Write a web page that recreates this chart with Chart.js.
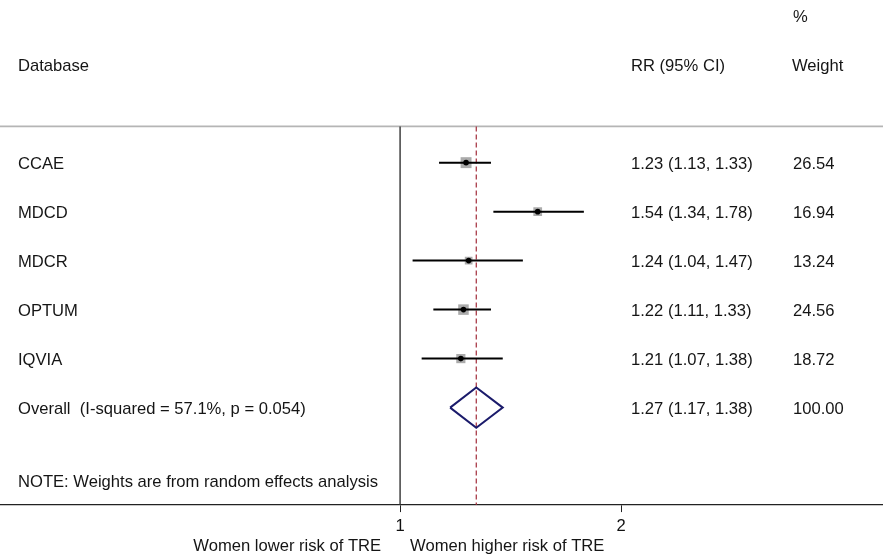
<!DOCTYPE html>
<html>
<head>
<meta charset="utf-8">
<script src="https://cdn.jsdelivr.net/npm/chart.js@4.4.1/dist/chart.umd.min.js"></script>
<style>
  html, body { margin: 0; padding: 0; background: #fff; }
  #wrap { width: 883px; height: 554px; }
</style>
</head>
<body>
<div id="wrap"><canvas id="forest"></canvas></div>
<script>
// Study data
const databases = ['CCAE', 'MDCD', 'MDCR', 'OPTUM', 'IQVIA'];
const rr = [1.23, 1.54, 1.24, 1.22, 1.21];
const ciLow = [1.13, 1.34, 1.04, 1.11, 1.07];
const ciHigh = [1.33, 1.78, 1.47, 1.33, 1.38];
const weights = [26.54, 16.94, 13.24, 24.56, 18.72];

// Pooled estimate
const overallLabel = 'Overall  (I-squared = 57.1%, p = 0.054)';
const overallRR = 1.27;
const overallLow = 1.17;
const overallHigh = 1.38;
const overallWeight = 100.00;

const xTicks = [1, 2];
const noteText = 'NOTE: Weights are from random effects analysis';

const FONT = '"Liberation Sans", Arial, sans-serif';
const FONT_SIZE = 16.6;
const X_MIN = 0.285, X_MAX = 4.55;
const Y_MIN = -2.32, Y_MAX = 7.99;
const TOP_RULE = 0.26;
const overallRow = databases.length + 1;

// CI segments, broken by null points
const ciLines = [];
databases.forEach((d, i) => {
  ciLines.push({ x: ciLow[i], y: i + 1 });
  ciLines.push({ x: ciHigh[i], y: i + 1 });
  ciLines.push({ x: ciHigh[i], y: null });
});

const fmt = v => v.toFixed(2);

// Text columns and axis captions
const textPlugin = {
  id: 'forestText',
  afterDraw(chart) {
    const ctx = chart.ctx;
    const y = chart.scales.y;
    const x = chart.scales.x;
    const base = v => y.getPixelForValue(v) + 6;
    ctx.save();
    ctx.fillStyle = '#151515';
    ctx.font = FONT_SIZE + 'px ' + FONT;
    ctx.textAlign = 'left';
    ctx.textBaseline = 'alphabetic';

    ctx.fillText('%', 793, base(-2));
    ctx.fillText('Database', 18, base(-1));
    ctx.fillText('RR (95% CI)', 631, base(-1));
    ctx.fillText('Weight', 792, base(-1));

    databases.forEach((d, i) => {
      ctx.fillText(d, 18, base(i + 1));
      ctx.fillText(fmt(rr[i]) + ' (' + fmt(ciLow[i]) + ', ' + fmt(ciHigh[i]) + ')', 631, base(i + 1));
      ctx.fillText(fmt(weights[i]), 793, base(i + 1));
    });
    ctx.fillText(overallLabel, 18, base(overallRow));
    ctx.fillText(fmt(overallRR) + ' (' + fmt(overallLow) + ', ' + fmt(overallHigh) + ')', 631, base(overallRow));
    ctx.fillText(fmt(overallWeight), 793, base(overallRow));
    ctx.fillText(noteText, 18, base(overallRow + 1.5));

    const p1 = x.getPixelForValue(1);
    ctx.textAlign = 'right';
    ctx.fillText('Women lower risk of TRE', p1 - 19, 551);
    ctx.textAlign = 'left';
    ctx.fillText('Women higher risk of TRE', p1 + 10, 551);
    ctx.restore();
  }
};

function initializeChart() {
  const ctx = document.getElementById('forest').getContext('2d');
  new Chart(ctx, {
    type: 'scatter',
    data: {
      datasets: [
        {
          // centre points
          data: rr.map((v, i) => ({ x: v, y: i + 1 })),
          pointStyle: 'circle',
          pointRadius: 2.8,
          backgroundColor: '#000',
          borderWidth: 0,
          order: 0
        },
        {
          // confidence intervals
          type: 'line',
          data: ciLines,
          borderColor: '#000',
          borderWidth: 2,
          pointRadius: 0,
          spanGaps: false,
          order: 1
        },
        {
          // weight boxes
          data: rr.map((v, i) => ({ x: v, y: i + 1 })),
          pointStyle: 'rect',
          pointRadius: weights.map(w => 1.5 * Math.sqrt(w)),
          backgroundColor: '#ababab',
          borderWidth: 0,
          order: 2
        },
        {
          // pooled diamond
          type: 'line',
          data: [
            { x: overallLow, y: overallRow },
            { x: overallRR, y: overallRow - 0.41 },
            { x: overallHigh, y: overallRow },
            { x: overallRR, y: overallRow + 0.41 },
            { x: overallLow, y: overallRow }
          ],
          borderColor: '#1b1b6b',
          borderWidth: 2,
          pointRadius: 0,
          fill: false,
          order: 3
        },
        {
          // pooled estimate line
          type: 'line',
          data: [{ x: overallRR, y: TOP_RULE }, { x: overallRR, y: Y_MAX }],
          borderColor: '#a32c3a',
          borderWidth: 1.2,
          borderDash: [5, 3],
          pointRadius: 0,
          order: 4
        },
        {
          // line of no effect
          type: 'line',
          data: [{ x: 1, y: TOP_RULE }, { x: 1, y: Y_MAX }],
          borderColor: '#333',
          borderWidth: 1.4,
          pointRadius: 0,
          order: 5
        },
        {
          // header rule
          type: 'line',
          data: [{ x: X_MIN, y: TOP_RULE }, { x: X_MAX, y: TOP_RULE }],
          borderColor: '#b5b5b5',
          borderWidth: 1.6,
          pointRadius: 0,
          order: 6
        }
      ]
    },
    options: {
      responsive: true,
      maintainAspectRatio: false,
      animation: false,
      events: [],
      layout: { autoPadding: false, padding: { left: 0, right: 0, top: 0, bottom: 14 } },
      plugins: {
        legend: { display: false },
        tooltip: { enabled: false }
      },
      scales: {
        x: {
          type: 'logarithmic',
          min: X_MIN,
          max: X_MAX,
          afterBuildTicks: scale => {
            scale.ticks = xTicks.map(v => ({ value: v }));
          },
          ticks: {
            color: '#111',
            font: { family: FONT, size: FONT_SIZE },
            padding: 4,
            callback: v => String(v)
          },
          grid: {
            drawOnChartArea: false,
            drawTicks: true,
            tickLength: 7,
            color: '#222'
          },
          border: { display: true, color: '#222', width: 1.3 }
        },
        y: {
          display: false,
          reverse: true,
          min: Y_MIN,
          max: Y_MAX
        }
      }
    },
    plugins: [textPlugin]
  });
}

document.addEventListener('DOMContentLoaded', initializeChart);
</script>
</body>
</html>
